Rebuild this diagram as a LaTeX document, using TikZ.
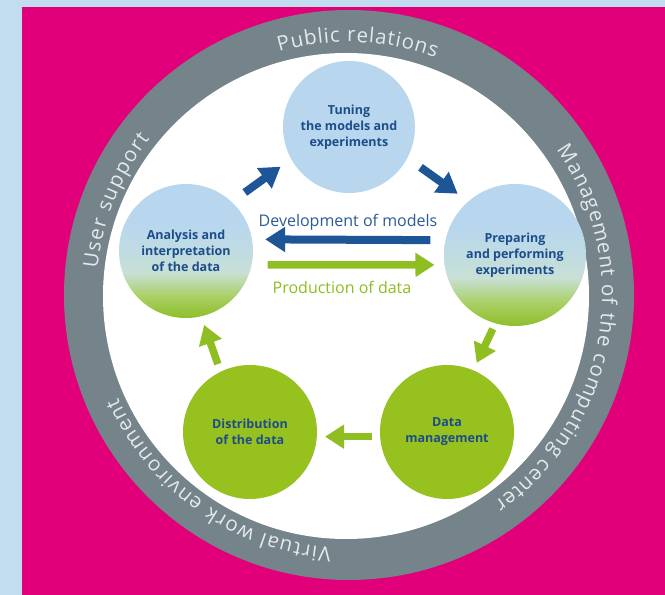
\documentclass[tikz,border=0pt]{standalone}
\usepackage{fontspec}
\setmainfont{Open Sans}
\usetikzlibrary{arrows.meta,decorations.text}

\definecolor{paleblue}{HTML}{C2DDF0}
\definecolor{magentabg}{HTML}{E2007A}
\definecolor{ringgray}{HTML}{74848A}
\definecolor{ringtxt}{HTML}{E4E9EB}
\definecolor{cblue}{HTML}{B8D7EE}
\definecolor{cgreen}{HTML}{97C11F}
\definecolor{navy}{HTML}{1C4C8A}
\definecolor{arrowblue}{HTML}{1D5597}
\definecolor{arrowgreen}{HTML}{8FBE22}
\definecolor{labelblue}{HTML}{2B5A95}
\definecolor{gmid}{HTML}{A9CF63}
\definecolor{pale}{HTML}{C8E0D6}
\definecolor{gbot}{HTML}{8EBF2A}
\colorlet{bpale}{cblue!60!pale}

% light blue on top, fading through a pale tint into green at the bottom
\pgfdeclareverticalshading{bluegreen}{100bp}{color(0bp)=(gbot); color(25bp)=(gbot); color(33bp)=(gmid); color(42bp)=(pale); color(52bp)=(bpale); color(60bp)=(cblue); color(100bp)=(cblue)}

\newcommand\ringfont{\fontsize{20.5}{24}\selectfont\color{ringtxt}}

\tikzset{
  stage/.style={circle, minimum size=134pt, inner sep=0pt, align=center,
    text=navy, font=\bfseries\fontsize{12.5}{16}\selectfont},
  bluestage/.style={stage, fill=cblue},
  mixstage/.style={stage, shading=bluegreen},
  greenstage/.style={stage, fill=cgreen},
  barrow/.style={draw=arrowblue, line width=8pt, -{Triangle[length=20pt,width=24pt]}},
  garrow/.style={draw=arrowgreen, line width=7.5pt, -{Triangle[length=19pt,width=23pt]}},
  flowlabel/.style={font=\fontsize{16}{19}\selectfont, inner sep=0pt, anchor=base},
  ringtext/.style={decorate, decoration={text along path, text align=fit to path,
    text={|\ringfont|#1}}}
}

\begin{document}
\begin{tikzpicture}[x=1pt,y=1pt]
  \useasboundingbox (0,0) rectangle (665,595);

  % backdrop
  \fill[paleblue] (0,0) rectangle (665,595);
  \fill[magentabg] (22,0) rectangle (665,588);

  % outer ring
  \coordinate (ringc) at (349,300);
  \fill[ringgray] (ringc) circle[radius=285pt];
  \fill[white] (346,299) circle[radius=243pt];

  % ring captions, running clockwise
  \path[ringtext={Public relations}]
    (ringc) ++(106:253pt) arc[start angle=106, end angle=70, radius=253pt];
  \path[ringtext={Management of the computing center}]
    (ringc) ++(35:253pt) arc[start angle=35, end angle=-55, radius=253pt];
  \path[ringtext={Virtual work environment}]
    (ringc) ++(266:253pt) arc[start angle=266, end angle=204, radius=253pt];
  \path[ringtext={User support}]
    (ringc) ++(174:253pt) arc[start angle=174, end angle=142, radius=253pt];

  % stages of the cycle
  \node[bluestage, minimum size=132pt] (tuning) at (349,468)
    {\raisebox{5pt}{\begin{tabular}{@{}c@{}}Tuning\\the models and\\experiments\end{tabular}}};
  \node[mixstage, minimum size=142pt] (prep) at (515,340)
    {\raisebox{3pt}{\begin{tabular}{@{}c@{}}Preparing\\and performing\\experiments\end{tabular}}};
  \node[mixstage] (analysis) at (186,344) {Analysis and\\interpretation\\of the data};
  \node[greenstage] (datam) at (447,163) {Data\\management};
  \node[greenstage] (distr) at (250,163) {Distribution\\of the data};

  % central flows
  \node[flowlabel, text=labelblue] (devlabel) at (348,368.5) {Development of models};
  \node[flowlabel, text=arrowgreen] (prodlabel) at (342,301) {Production of data};

  % arrows between stages
  \draw[barrow, shorten <=16pt, shorten >=13pt] (analysis.47) -- (tuning.209);
  \draw[barrow, shorten <=16pt, shorten >=13pt] (tuning.332) -- (prep.131);
  \draw[barrow, shorten <=15pt, shorten >=13pt] (prep.168) -- (analysis.10);
  \draw[garrow, shorten <=16pt, shorten >=10pt] (analysis.348) -- (prep.188);
  \draw[garrow, shorten <=6pt, shorten >=8pt] (prep.254) -- (datam.67);
  \draw[garrow, shorten <=8pt, shorten >=8pt] (datam.184) -- (distr.356);
  \draw[garrow, shorten <=8pt, shorten >=9pt] (distr.116) -- (analysis.283);
\end{tikzpicture}
\end{document}
